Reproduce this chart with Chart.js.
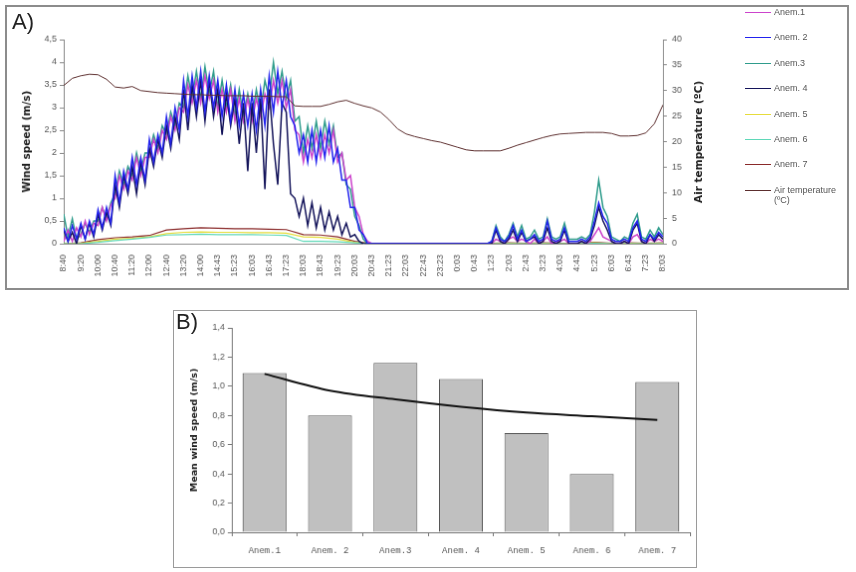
<!DOCTYPE html>
<html>
<head>
<meta charset="utf-8">
<script src="https://cdn.jsdelivr.net/npm/chart.js@4.4.1/dist/chart.umd.min.js"></script>
<style>
  body { margin: 0; background: #fff; width: 856px; height: 572px; position: relative; overflow: hidden; }
  #canvasA { position: absolute; left: 5px; top: 5px; border: 2px solid #8c8c8c; }
  #canvasB { position: absolute; left: 173px; top: 310px; border: 1px solid #9a9a9a; }
  .panel { position: absolute; font: 22px "Liberation Sans", Arial, sans-serif; color: #222; line-height: 1; }
  .ytitle { position: absolute; font: bold 10.5px "DejaVu Sans", sans-serif; color: #222; white-space: nowrap;
            transform: translate(-50%, -50%) rotate(-90deg); }
  #legendA { position: absolute; left: 745px; top: 0; font: 9px "Liberation Sans", Arial, sans-serif; color: #555; }
  #legendA .row { position: absolute; left: 0; display: flex; align-items: flex-start; white-space: nowrap; }
  #legendA .swatch { width: 26px; height: 0; border-top: 1.5px solid; margin-top: 5px; margin-right: 3px; }
</style>
</head>
<body>
<canvas id="canvasA" width="844" height="285"></canvas>
<canvas id="canvasB" width="524" height="258"></canvas>
<div class="panel" style="left:12px; top:11px;">A)</div>
<div class="panel" style="left:176px; top:311px;">B)</div>
<div class="ytitle" style="left:698px; top:142px;">Air temperature (ºC)</div>
<div id="legendA"></div>
<script>
// ---- panel A: wind speed of 7 anemometers + air temperature ----
const timeTicks = ['8:40', '9:20', '10:00', '10:40', '11:20', '12:00', '12:40', '13:20', '14:00', '14:43',
  '15:23', '16:03', '16:43', '17:23', '18:03', '18:43', '19:23', '20:03', '20:43', '21:23', '22:03',
  '22:43', '23:23', '0:03', '0:43', '1:23', '2:03', '2:43', '3:23', '4:03', '4:43', '5:23', '6:03',
  '6:43', '7:23', '8:03'];
const perTick = 4; // samples between two tick labels

const anem1 = [
  0.05,0.3,0.05,0.35, 0.15,0.5,0.2,0.45, 0.4,0.8,0.5,0.85, 1.0,1.5,1.2,1.6,
  1.4,1.9,1.5,1.9, 1.9,2.3,2.0,2.5, 2.3,2.8,2.5,3.0, 2.9,3.5,3.1,3.6,
  3.1,3.7,3.2,3.6, 2.9,3.4,2.9,3.4, 2.7,3.2,2.7,3.2, 2.7,3.2,2.8,3.3,
  3.0,3.6,3.1,3.6, 3.0,3.4,2.5,2.4, 1.8,2.3,1.9,2.4, 1.9,2.4,2.0,2.5,
  1.8,2.0,1.4,1.5, 0.8,0.6,0.2,0.05,
  0,0,0,0, 0,0,0,0, 0,0,0,0, 0,0,0,0, 0,0,0,0, 0,0,0,0, 0,0,0,0,
  0,0.1,0.05,0, 0.1,0.15,0.05,0.1, 0.05,0,0.1,0, 0.05,0.15,0,0.05,
  0.05,0.1,0,0, 0,0.05,0,0.05, 0.2,0.35,0.15,0.1, 0.05,0,0,0.05,
  0,0.15,0.2,0.05, 0,0.1,0.05,0.1, 0.05
];
const anem2 = [
  0.35,0.05,0.4,0.1, 0.45,0.1,0.5,0.2, 0.75,0.35,0.8,0.45, 1.5,0.9,1.6,1.2,
  1.9,1.3,1.9,1.4, 2.3,1.8,2.4,2.0, 2.8,2.2,3.0,2.5, 3.6,2.8,3.7,3.0,
  3.8,2.9,3.7,3.0, 3.6,2.8,3.5,2.7, 3.4,2.6,3.3,2.6, 3.3,2.5,3.4,2.6,
  3.7,2.9,3.8,3.0, 3.6,2.8,2.6,2.0, 2.4,1.8,2.5,1.8, 2.5,1.9,2.6,1.8,
  2.1,1.4,1.4,0.8, 0.8,0.3,0.2,0,
  0,0,0,0, 0,0,0,0, 0,0,0,0, 0,0,0,0, 0,0,0,0, 0,0,0,0, 0,0,0,0,
  0.05,0.35,0.1,0.05, 0.15,0.4,0.1,0.3, 0.05,0.1,0.2,0.05, 0.1,0.5,0.1,0.05,
  0.1,0.35,0.05,0.05, 0.05,0.1,0.05,0.15, 0.5,0.9,0.6,0.45, 0.1,0.05,0.05,0.1,
  0.05,0.35,0.5,0.1, 0.05,0.2,0.1,0.25, 0.15
];
const anem3 = [
  0.65,0.15,0.55,0.1, 0.2,0.45,0.25,0.5, 0.5,0.8,0.55,0.9, 1.1,1.6,1.3,1.7,
  1.5,2.0,1.6,2.0, 2.0,2.4,2.1,2.6, 2.4,2.9,2.6,3.1, 3.0,3.7,3.2,3.8,
  3.2,3.9,3.3,3.8, 3.0,3.6,3.0,3.5, 2.8,3.4,2.8,3.3, 2.8,3.4,2.9,3.6,
  3.2,4.0,3.3,3.8, 3.2,3.6,2.7,2.8, 2.0,2.6,2.1,2.7, 2.1,2.7,2.2,2.6,
  1.9,2.0,1.3,1.2, 0.6,0.4,0.1,0,
  0,0,0,0, 0,0,0,0, 0,0,0,0, 0,0,0,0, 0,0,0,0, 0,0,0,0, 0,0,0,0,
  0.05,0.4,0.15,0.05, 0.2,0.45,0.15,0.4, 0.1,0.15,0.3,0.1, 0.15,0.55,0.15,0.1,
  0.15,0.45,0.1,0.1, 0.1,0.15,0.1,0.2, 0.7,1.4,0.8,0.6, 0.15,0.1,0.05,0.15,
  0.1,0.45,0.65,0.15, 0.1,0.3,0.15,0.35, 0.2
];
const anem4 = [
  0.3,0.05,0.25,0, 0.4,0.1,0.45,0.15, 0.65,0.3,0.7,0.4, 1.3,0.8,1.5,1.1,
  1.7,1.1,1.8,1.3, 2.1,1.7,2.3,1.9, 2.6,2.1,2.8,2.3, 3.4,2.5,3.5,2.8,
  3.6,2.7,3.6,2.8, 3.4,2.4,3.3,2.6, 3.2,2.2,3.1,1.6, 3.1,2.0,3.2,1.2,
  3.4,2.2,1.3,3.1, 2.9,1.1,1.0,0.6, 1.0,0.4,0.9,0.35, 0.8,0.3,0.7,0.3,
  0.6,0.2,0.45,0.15, 0.2,0.05,0,0,
  0,0,0,0, 0,0,0,0, 0,0,0,0, 0,0,0,0, 0,0,0,0, 0,0,0,0, 0,0,0,0,
  0,0.3,0.05,0, 0.1,0.3,0.05,0.25, 0.05,0.1,0.15,0, 0.05,0.35,0.05,0,
  0.05,0.3,0,0, 0,0.05,0,0.1, 0.4,0.8,0.5,0.3, 0.05,0,0,0.05,
  0,0.3,0.45,0.05, 0,0.2,0.05,0.2, 0.1
];
// the three low anemometers, one value per tick label
const anem5 = [0,0.01,0.05,0.1,0.12,0.15,0.22,0.25,0.26,0.25, 0.25,0.24,0.24,0.23,0.15,0.14,0.1,0.03,0,0,
  0,0,0,0,0,0,0.01,0,0.01,0, 0,0.02,0,0.01,0,0.01];
const anem6 = [0,0,0.03,0.07,0.1,0.14,0.19,0.2,0.21,0.2, 0.2,0.2,0.19,0.18,0.05,0.05,0.04,0.02,0,0,
  0,0,0,0,0,0,0,0,0,0, 0,0.01,0,0,0,0];
const anem7 = [0,0.02,0.09,0.13,0.15,0.18,0.3,0.33,0.35,0.34, 0.33,0.33,0.32,0.31,0.2,0.19,0.15,0.05,0,0,
  0,0,0,0,0,0.01,0.02,0.01,0.02,0.01, 0.01,0.03,0.01,0.02,0.01,0.02];
// air temperature, two values per tick label
const airTemp = [
  31.0,32.4,32.9,33.2,33.1,32.2,30.7,30.5,30.8,30.0,
  29.8,29.6,29.5,29.4,29.3,29.2,29.2,29.1,29.1,29.0,
  29.0,29.0,28.9,28.9,28.9,28.8,28.8,27.0,26.9,26.9,
  26.9,27.3,27.8,28.1,27.5,27.0,26.6,25.8,24.3,22.5,
  21.5,21.0,20.6,20.2,19.9,19.4,18.9,18.4,18.2,18.2,
  18.2,18.2,18.7,19.3,19.8,20.3,20.8,21.2,21.5,21.6,
  21.7,21.8,21.8,21.8,21.6,21.1,21.1,21.2,21.7,23.5,
  27.2
];

// ---- panel B: mean wind speed ----
const anemNames = ['Anem.1', 'Anem. 2', 'Anem.3', 'Anem. 4', 'Anem. 5', 'Anem. 6', 'Anem. 7'];
const meanSpeed = [1.09, 0.80, 1.16, 1.05, 0.68, 0.40, 1.03];
const trendSpeed = [1.085, 0.97, 0.91, 0.86, 0.82, 0.795, 0.77];

const anemColors = ['#cc44cc', '#2222ee', '#2f9c8c', '#14145a', '#e6dc3c', '#5fd8b8', '#8a2a2a'];
const tempColor = '#5c2e2e';

Chart.defaults.animation = false;
Chart.defaults.color = '#555';
Chart.defaults.font.family = '"Liberation Sans", Arial, sans-serif';
Chart.defaults.font.size = 9;

function pts(values, step) {
  return values.map((v, i) => ({ x: i * step, y: v }));
}
const comma = v => String(v).replace('.', ',');

const speedSeries = [
  [anem1, perTick], [anem2, perTick], [anem3, perTick], [anem4, perTick],
  [anem5, 1], [anem6, 1], [anem7, 1]
];
const drawOrder = [3, 1, 4, 2, 6, 5, 7];

const dsA = speedSeries.map(([vals, div], i) => ({
  label: anemNames[i],
  data: pts(vals, perTick / div),
  borderColor: anemColors[i],
  borderWidth: div === perTick ? 1.5 : 1.2,
  pointRadius: 0,
  yAxisID: 'yW',
  order: drawOrder[i]
}));
dsA.push({
  label: 'Air temperature (ºC)',
  data: pts(airTemp, perTick / 2),
  borderColor: tempColor,
  borderWidth: 1,
  pointRadius: 0,
  yAxisID: 'yT',
  order: 0
});

new Chart(document.getElementById('canvasA'), {
  type: 'line',
  data: { datasets: dsA },
  options: {
    responsive: false,
    layout: { padding: { left: 0, right: 140, top: 33, bottom: 0 } },
    plugins: { legend: { display: false }, tooltip: { enabled: false } },
    scales: {
      x: {
        type: 'linear',
        min: 0,
        max: (timeTicks.length - 1) * perTick,
        grid: { display: false },
        border: { color: '#888' },
        ticks: {
          stepSize: perTick, autoSkip: false, minRotation: 90, maxRotation: 90, padding: 3,
          callback: v => timeTicks[v / perTick] || ''
        },
        afterFit: s => { s.height = 45; }
      },
      yW: {
        position: 'left',
        min: 0, max: 4.5,
        grid: { drawOnChartArea: false, tickLength: 4, color: '#888' },
        border: { color: '#888' },
        ticks: { stepSize: 0.5, padding: 3, callback: comma },
        title: { display: true, text: 'Wind speed (m/s)', color: '#222',
                 font: { family: '"DejaVu Sans", sans-serif', size: 10.5, weight: 'bold' },
                 padding: { top: 14, bottom: 0 } },
        afterFit: s => { s.width = 57; }
      },
      yT: {
        position: 'right',
        min: 0, max: 40,
        grid: { drawOnChartArea: false, tickLength: 4, color: '#888' },
        border: { color: '#888' },
        ticks: { stepSize: 5, padding: 5 },
        afterFit: s => { s.width = 45; }
      }
    }
  }
});

// html legend for panel A
const legendA = document.getElementById('legendA');
dsA.forEach((d, i) => {
  const row = document.createElement('div');
  row.className = 'row';
  row.style.top = (7 + i * 25.4) + 'px';
  const sw = document.createElement('div');
  sw.className = 'swatch';
  sw.style.borderColor = d.borderColor;
  const txt = document.createElement('div');
  txt.innerHTML = d.label === 'Air temperature (ºC)' ? 'Air temperature<br>(ºC)' : d.label;
  row.appendChild(sw);
  row.appendChild(txt);
  legendA.appendChild(row);
});

new Chart(document.getElementById('canvasB'), {
  data: {
    labels: anemNames,
    datasets: [
      {
        type: 'line',
        data: trendSpeed,
        borderColor: '#111',
        borderWidth: 2,
        pointRadius: 0,
        cubicInterpolationMode: 'monotone',
        order: 0
      },
      {
        type: 'bar',
        data: meanSpeed,
        backgroundColor: '#c0c0c0',
        borderColor: '#555',
        borderWidth: 1,
        barPercentage: 0.67,
        categoryPercentage: 1,
        order: 1
      }
    ]
  },
  options: {
    responsive: false,
    layout: { padding: { left: 0, right: 6, top: 17, bottom: 0 } },
    plugins: { legend: { display: false }, tooltip: { enabled: false } },
    scales: {
      x: {
        offset: true,
        grid: { offset: true, drawOnChartArea: false, tickLength: 4, color: '#777' },
        border: { color: '#777' },
        ticks: { padding: 9, font: { family: '"Liberation Mono", monospace', size: 9 } },
        afterFit: s => { s.height = 35; }
      },
      y: {
        min: 0, max: 1.4,
        grid: { drawOnChartArea: false, tickLength: 4, color: '#777' },
        border: { color: '#777' },
        ticks: { stepSize: 0.2, padding: 3, callback: v => v.toFixed(1).replace('.', ',') },
        title: { display: true, text: 'Mean wind speed (m/s)', color: '#222',
                 font: { family: '"DejaVu Sans", sans-serif', size: 9.5, weight: 'bold' },
                 padding: { top: 15, bottom: 0 } },
        afterFit: s => { s.width = 58; }
      }
    }
  }
});
</script>
</body>
</html>
